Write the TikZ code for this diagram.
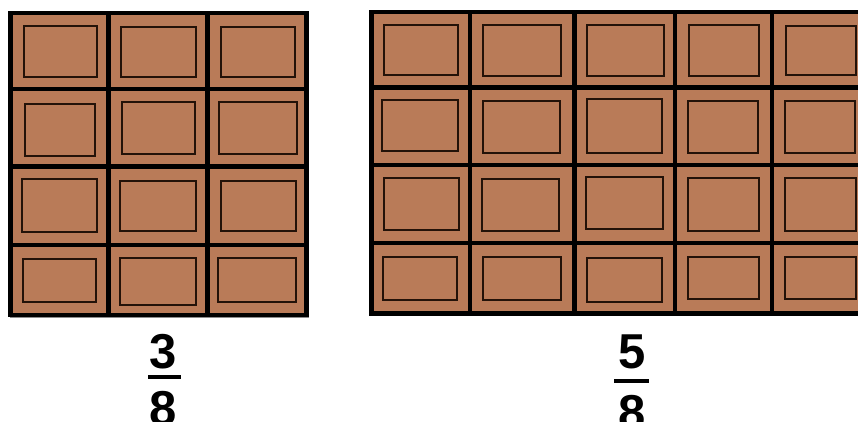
\documentclass[tikz,border=0pt]{standalone}
\usepackage{fontspec}
\setmainfont{Liberation Sans}
\definecolor{choc}{RGB}{185,123,88}
\definecolor{innerline}{RGB}{35,18,8}
\begin{document}
\begin{tikzpicture}[x=1pt,y=-1pt,
  gridline/.style={line width=4.8pt,black},
  piece/.style={draw=innerline,line width=1.3pt},
  shadowline/.style={draw=black!45,line width=1pt},
  fracnum/.style={font=\fontsize{49}{49}\selectfont\bfseries,anchor=base,inner sep=0pt},
  fracbar/.style={line width=4.2pt,black}]
\useasboundingbox (0,0) rectangle (858,421);
% ---------- left bar 3 x 4 ----------
\fill[choc] (10.5,13) rectangle (306.5,315);
\draw[shadowline] (308.5,13) -- (308.5,317) -- (10,317);
\foreach \xa/\ya/\xb/\yb in {
  24/26/97/77, 121/27/196/77, 221/27/295/77,
  25/104/95/156, 122/102/195/154, 219/102/297/154,
  22/179/97/232, 120/181/196/231, 221/181/296/231,
  23/259/96/302, 120/258/196/305, 218/258/296/302}
  \draw[piece] (\xa,\ya) rectangle (\xb,\yb);
\draw[gridline] (10.5,13) rectangle (306.5,315);
\foreach \x in {108.5,207.7} \draw[gridline] (\x,13) -- (\x,315);
\foreach \y in {89,166.5,245} \draw[gridline] (10.5,\y) -- (306.5,\y);
% ---------- right bar 5 x 4 ----------
\fill[choc] (371.5,12) rectangle (900,313.5);
\draw[shadowline] (370,12) -- (370,315.5) -- (900,315.5);
\foreach \xa/\ya/\xb/\yb in {
  384/25/458/75, 483/25/561/76, 587/25/664/76, 689/25/759/76, 786/26/856/75,
  382/100/458/151, 483/101/560/153, 587/99/662/153, 688/101/758/153, 785/101/855/153,
  384/178/459/230, 482/179/559/231, 586/177/663/229, 688/178/759/231, 785/178/856/231,
  383/257/457/300, 483/257/561/300, 587/258/662/302, 688/257/759/299, 785/257/856/299}
  \draw[piece] (\xa,\ya) rectangle (\xb,\yb);
\draw[gridline] (900,12) -- (371.5,12) -- (371.5,313.5) -- (900,313.5);
\foreach \x in {470,574.5,675,772} \draw[gridline] (\x,12) -- (\x,313.5);
\foreach \y in {87.5,165,243} \draw[gridline] (371.5,\y) -- (900,\y);
% ---------- fractions ----------
\node[fracnum] (numA) at (163,368) {3};
\coordinate (barAl) at (148,377);
\coordinate (barAr) at (181,377);
\draw[fracbar] (barAl) -- (barAr);
\node[fracnum] (denA) at (163,425) {8};
\node[fracnum] (numB) at (632,368) {5};
\coordinate (barBl) at (614,381);
\coordinate (barBr) at (649,381);
\draw[fracbar] (barBl) -- (barBr);
\node[fracnum] (denB) at (632,429) {8};
\end{tikzpicture}
\end{document}
